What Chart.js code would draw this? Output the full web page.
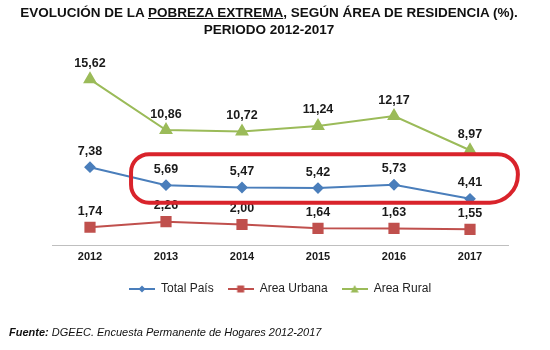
<!DOCTYPE html>
<html lang="es">
<head>
<meta charset="UTF-8">
<title>Pobreza extrema 2012-2017</title>
<script src="https://cdn.jsdelivr.net/npm/chart.js"></script>
<style>
    body {
        margin: 0;
        padding: 0;
        background: #ffffff;
        font-family: "Liberation Sans", Arial, sans-serif;
    }
    #wrap {
        position: relative;
        width: 550px;
        height: 350px;
        overflow: hidden;
    }
    #chartBox {
        position: absolute;
        left: 0;
        top: 0;
        width: 550px;
        height: 350px;
    }
    #titulo {
        position: absolute;
        left: 0;
        top: 4px;
        width: 538px;
        text-align: center;
        font-weight: bold;
        font-size: 13.5px;
        line-height: 17px;
        color: #111;
    }
    #fuente {
        position: absolute;
        left: 9px;
        top: 326px;
        font-size: 11px;
        line-height: 13px;
        font-style: italic;
        color: #111;
    }
</style>
</head>
<body>
<div id="wrap">
    <div id="chartBox"><canvas id="grafico"></canvas></div>
    <div id="titulo">EVOLUCIÓN DE LA <u>POBREZA EXTREMA</u>, SEGÚN ÁREA DE RESIDENCIA (%).<br>PERIODO 2012-2017</div>
    <div id="fuente"><b>Fuente:</b> DGEEC. Encuesta Permanente de Hogares 2012-2017</div>
</div>
<script>
    // datos
    const anios = ['2012', '2013', '2014', '2015', '2016', '2017'];
    const totalPais = [7.38, 5.69, 5.47, 5.42, 5.73, 4.41];
    const areaUrbana = [1.74, 2.26, 2.00, 1.64, 1.63, 1.55];
    const areaRural = [15.62, 10.86, 10.72, 11.24, 12.17, 8.97];

    const azul = '#4a7ebb';
    const rojo = '#c0504d';
    const verde = '#9bbb59';
    const fuente = '"Liberation Sans", Arial, sans-serif';

    // icono de leyenda: línea con marcador en el centro
    function iconoLeyenda(color, forma) {
        const c = document.createElement('canvas');
        c.width = 26;
        c.height = 12;
        const g = c.getContext('2d');
        g.strokeStyle = color;
        g.fillStyle = color;
        g.lineWidth = 2;
        g.beginPath();
        g.moveTo(0, 6);
        g.lineTo(26, 6);
        g.stroke();
        g.beginPath();
        if (forma === 'rombo') {
            g.moveTo(13, 2.5); g.lineTo(16.5, 6); g.lineTo(13, 9.5); g.lineTo(9.5, 6);
        } else if (forma === 'cuadrado') {
            g.rect(9.5, 2.5, 7, 7);
        } else {
            g.moveTo(13, 2); g.lineTo(17, 9.5); g.lineTo(9, 9.5);
        }
        g.closePath();
        g.fill();
        return c;
    }

    // etiquetas de valores sobre cada punto
    const etiquetas = {
        id: 'etiquetas',
        afterDatasetsDraw(chart) {
            const ctx = chart.ctx;
            ctx.save();
            ctx.font = 'bold 12.5px ' + fuente;
            ctx.fillStyle = '#1a1a1a';
            ctx.textAlign = 'center';
            ctx.textBaseline = 'middle';
            chart.data.datasets.forEach((ds, i) => {
                chart.getDatasetMeta(i).data.forEach((pt, j) => {
                    const txt = ds.data[j].toFixed(2).replace('.', ',');
                    ctx.fillText(txt, pt.x, pt.y - 16);
                });
            });
            ctx.restore();
        }
    };

    // recuadro rojo de resaltado (en unidades de las escalas)
    const resaltado = {
        id: 'resaltado',
        afterDraw(chart) {
            const x = chart.scales.x, y = chart.scales.y;
            const x0 = x.getPixelForValue(0.54), x1 = x.getPixelForValue(5.63);
            const y0 = y.getPixelForValue(8.6), y1 = y.getPixelForValue(4.05);
            const ctx = chart.ctx;
            ctx.save();
            ctx.strokeStyle = '#d9232b';
            ctx.lineWidth = 4;
            ctx.beginPath();
            ctx.roundRect(x0, y0, x1 - x0, y1 - y0, [18, 20, 28, 18]);
            ctx.stroke();
            ctx.restore();
        }
    };

    const ctx1 = document.getElementById('grafico').getContext('2d');
    const grafico = new Chart(ctx1, {
        type: 'line',
        data: {
            labels: anios,
            datasets: [{
                label: 'Total País',
                data: totalPais,
                borderColor: azul,
                backgroundColor: azul,
                borderWidth: 2,
                pointStyle: 'rectRot',
                pointRadius: 4.5,
                icono: iconoLeyenda(azul, 'rombo')
            }, {
                label: 'Area Urbana',
                data: areaUrbana,
                borderColor: rojo,
                backgroundColor: rojo,
                borderWidth: 2,
                pointStyle: 'rect',
                pointRadius: 6.5,
                icono: iconoLeyenda(rojo, 'cuadrado')
            }, {
                label: 'Area Rural',
                data: areaRural,
                borderColor: verde,
                backgroundColor: verde,
                borderWidth: 2,
                pointStyle: 'triangle',
                pointRadius: 6,
                icono: iconoLeyenda(verde, 'triangulo')
            }]
        },
        options: {
            responsive: true,
            maintainAspectRatio: false,
            animation: false,
            layout: {
                padding: { left: 52, right: 42, top: 54, bottom: 45 }
            },
            scales: {
                x: {
                    offset: true,
                    grid: { display: false, drawTicks: false },
                    border: { display: true, color: '#bfbfbf', width: 1 },
                    ticks: {
                        padding: 5,
                        color: '#1a1a1a',
                        font: { family: fuente, size: 11, weight: 'bold' }
                    }
                },
                y: {
                    display: false,
                    min: 0,
                    max: 18
                }
            },
            plugins: {
                title: { display: false },
                tooltip: { enabled: false },
                legend: {
                    position: 'bottom',
                    labels: {
                        usePointStyle: true,
                        pointStyleWidth: 26,
                        padding: 14,
                        color: '#222',
                        font: { family: fuente, size: 12 },
                        generateLabels(chart) {
                            return chart.data.datasets.map((ds, i) => ({
                                text: ds.label,
                                pointStyle: ds.icono,
                                datasetIndex: i,
                                fontColor: '#222',
                                lineWidth: 0,
                                strokeStyle: ds.borderColor,
                                fillStyle: ds.backgroundColor
                            }));
                        }
                    }
                }
            }
        },
        plugins: [etiquetas, resaltado]
    });
</script>
</body>
</html>
